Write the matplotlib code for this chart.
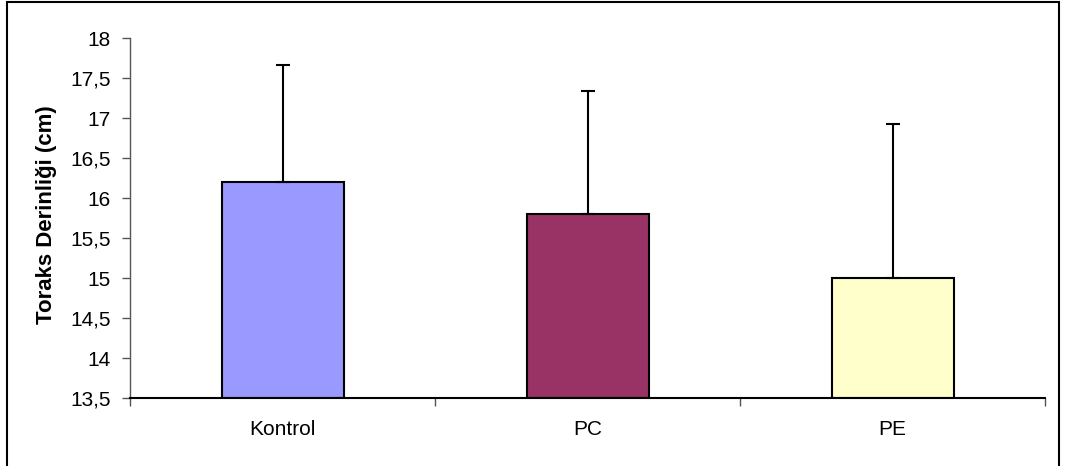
import matplotlib
matplotlib.use("Agg")
import matplotlib.pyplot as plt
from matplotlib.ticker import FuncFormatter, MultipleLocator
from matplotlib.patches import Rectangle

groups = ["Kontrol", "PC", "PE"]
means = [16.2, 15.8, 15.0]
upper_sd = [1.46, 1.54, 1.92]
colors = ["#9999FF", "#993366", "#FFFFCC"]

plt.rcParams['font.family'] = ['Liberation Sans', 'DejaVu Sans']

fig = plt.figure(figsize=(10.67, 4.66), dpi=100)
ax = fig.add_axes([130 / 1067, 1 - 398 / 466, 915 / 1067, 360 / 466])

x = range(len(groups))
ax.bar(x, [m - 13.5 for m in means], bottom=13.5, width=0.4, color=colors,
       edgecolor="black", linewidth=1.5, zorder=2)
ax.errorbar(x, means, yerr=[[0] * 3, upper_sd], fmt="none", ecolor="black",
            elinewidth=1.5, capsize=5, capthick=1.5, zorder=3)

ax.set_xlim(-0.5, 2.5)
ax.set_ylim(13.5, 18)
ax.yaxis.set_major_locator(MultipleLocator(0.5))
ax.yaxis.set_major_formatter(FuncFormatter(lambda v, p: ("%g" % v).replace(".", ",")))

ax.set_xticks(list(x))
ax.set_xticklabels(groups)
ax.set_xticks([-0.5, 0.5, 1.5, 2.5], minor=True)
ax.tick_params(axis="x", which="major", length=0, pad=16, labelsize=15)
ax.tick_params(axis="x", which="minor", length=6, width=1, direction="out", color="#555555")
ax.tick_params(axis="y", length=6, width=1, direction="out", pad=8, labelsize=15,
               color="#555555")

for s in ["top", "right"]:
    ax.spines[s].set_visible(False)
ax.spines["left"].set_color("#555555")
ax.spines["left"].set_linewidth(1)
ax.spines["bottom"].set_color("black")
ax.spines["bottom"].set_linewidth(1.5)

ax.set_ylabel("Toraks Derinliği (cm)", fontsize=16, fontweight="bold")
ax.yaxis.set_label_coords(-0.08, 0.51)

# outer frame (open at the bottom, cropped in the original)
fig.patches.append(Rectangle((7 / 1067, -0.05), 1052 / 1067, 1.05 - 1.5 / 466,
                             transform=fig.transFigure, fill=False,
                             edgecolor="black", linewidth=1.5))

fig.savefig("out.png", dpi=100)
